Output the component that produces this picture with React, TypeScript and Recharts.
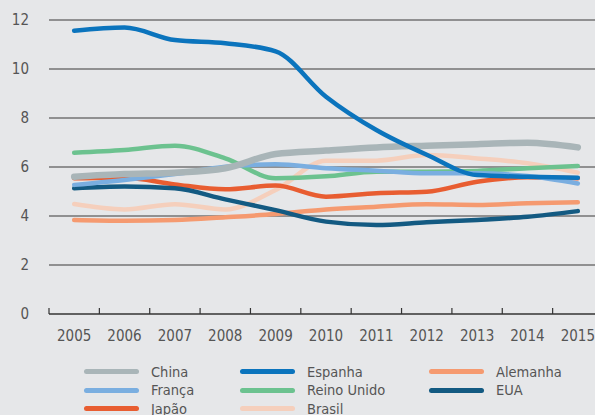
import { LineChart, Line, XAxis, YAxis, CartesianGrid } from "recharts";

const years = ["2005", "2006", "2007", "2008", "2009", "2010", "2011", "2012", "2013", "2014", "2015"];

const china = [5.6, 5.71, 5.77, 5.95, 6.53, 6.67, 6.8, 6.87, 6.93, 6.99, 6.8];
const espanha = [11.56, 11.69, 11.18, 11.05, 10.72, 8.87, 7.51, 6.5, 5.67, 5.6, 5.56];
const alemanha = [3.84, 3.81, 3.84, 3.95, 4.08, 4.27, 4.38, 4.48, 4.45, 4.52, 4.56];
const franca = [5.27, 5.47, 5.71, 6.01, 6.11, 5.95, 5.85, 5.74, 5.74, 5.63, 5.33];
const reinoUnido = [6.58, 6.69, 6.87, 6.35, 5.54, 5.62, 5.81, 5.81, 5.84, 5.95, 6.04];
const eua = [5.13, 5.2, 5.13, 4.68, 4.24, 3.77, 3.63, 3.74, 3.84, 3.97, 4.2];
const japao = [5.54, 5.56, 5.29, 5.09, 5.24, 4.79, 4.93, 4.99, 5.4, 5.58, 5.54];
const brasil = [4.49, 4.27, 4.48, 4.27, 5.06, 6.26, 6.26, 6.49, 6.35, 6.15, 5.77];

const yTicks = [0, 2, 4, 6, 8, 10, 12];

const series = [
  { key: "China", values: china, color: "#a9b5b8", width: 6.5 },
  { key: "Espanha", values: espanha, color: "#0b74bd", width: 4.5 },
  { key: "Alemanha", values: alemanha, color: "#f59a70", width: 4.5 },
  { key: "França", values: franca, color: "#7aaee0", width: 4.5 },
  { key: "Reino Unido", values: reinoUnido, color: "#6cc28f", width: 4.5 },
  { key: "EUA", values: eua, color: "#135a82", width: 4.5 },
  { key: "Japão", values: japao, color: "#e85d31", width: 4.5 },
  { key: "Brasil", values: brasil, color: "#f5cfbc", width: 4.5 },
];

// back to front
const drawOrder = ["Brasil", "Alemanha", "Japão", "EUA", "Reino Unido", "França", "China", "Espanha"];

const data = years.map((y, i) => {
  const row: Record<string, string | number> = { year: y };
  series.forEach((s) => (row[s.key] = s.values[i]));
  return row;
});

const FONT = '"DejaVu Sans Condensed", "Open Sans", sans-serif';
const TEXT = "#555555";

function YearTick(props: any) {
  const { x, y, payload } = props;
  const half = payload?.offset ?? 25;
  return (
    <g>
      <line x1={x - half} x2={x - half} y1={y} y2={y - 6} stroke="#333" strokeWidth={1.2} />
      <text x={x} y={y + 27} textAnchor="middle" fill={TEXT} fontSize={15} fontFamily={FONT}>
        {payload.value}
      </text>
    </g>
  );
}

function ChartLegend() {
  const cols = [84, 240, 429];
  return (
    <div style={{ position: "absolute", left: 0, top: 0, width: 595, height: 415, pointerEvents: "none" }}>
      {series.map((s, i) => {
        const col = i % 3;
        const row = Math.floor(i / 3);
        const cy = 371.5 + row * 18.7;
        return (
          <div key={s.key} style={{ position: "absolute", left: cols[col], top: cy - 10, height: 20, display: "flex", alignItems: "center" }}>
            <div style={{ width: 55, height: 5, borderRadius: 3, background: s.color }} />
            <span style={{ marginLeft: 12, fontFamily: FONT, fontSize: 14.5, color: TEXT, lineHeight: "20px" }}>{s.key}</span>
          </div>
        );
      })}
    </div>
  );
}

export default function App() {
  return (
    <div style={{ position: "fixed", left: 0, top: 0, width: 595, height: 415, overflow: "hidden", background: "#e6e7e9" }}>
      <LineChart width={605} height={344} data={data} margin={{ top: 20, right: 2, bottom: 0, left: 0 }}>
        <CartesianGrid vertical={false} stroke="#3a3a3a" strokeWidth={1.2} />
        <XAxis
          dataKey="year"
          scale="band"
          tickLine={false}
          tickSize={0}
          tickMargin={0}
          height={30}
          stroke="#333"
          strokeWidth={1.2}
          interval={0}
          tick={<YearTick />}
        />
        <YAxis
          domain={[0, 12]}
          ticks={yTicks}
          width={49}
          axisLine={false}
          tickLine={false}
          tickSize={6}
          tickMargin={14}
          tick={{ fill: TEXT, fontSize: 15, fontFamily: FONT }}
        />
        {drawOrder.map((k) => {
          const s = series.find((x) => x.key === k)!;
          return (
            <Line
              key={k}
              type="monotone"
              dataKey={k}
              stroke={s.color}
              strokeWidth={s.width}
              strokeLinecap="round"
              dot={false}
              activeDot={false}
              isAnimationActive={false}
            />
          );
        })}
      </LineChart>
      <ChartLegend />
    </div>
  );
}
